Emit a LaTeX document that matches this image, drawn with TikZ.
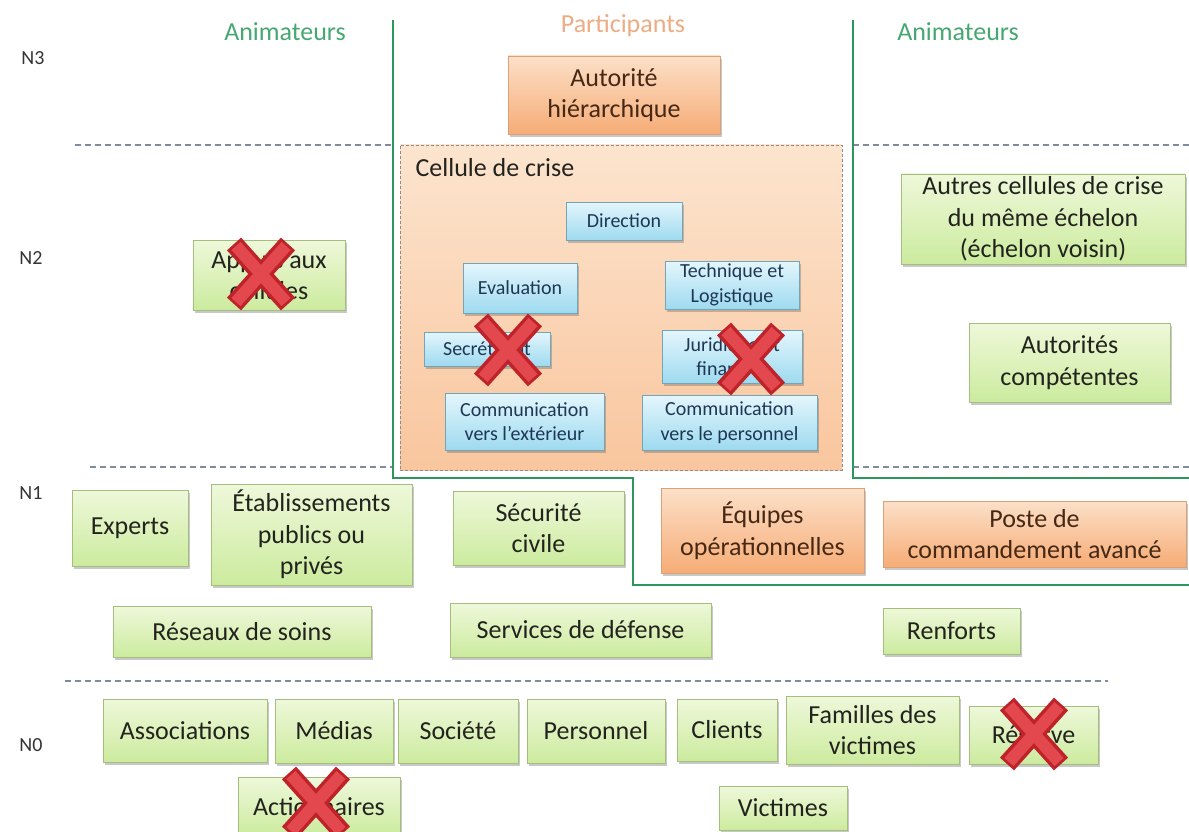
\documentclass[tikz,border=0pt]{standalone}
\usepackage{fontspec}
\setmainfont{Carlito}
\usetikzlibrary{shadows}
\definecolor{gtop}{RGB}{238,248,218}
\definecolor{gbot}{RGB}{204,235,158}
\definecolor{gborder}{RGB}{165,190,125}
\definecolor{otop}{RGB}{252,224,200}
\definecolor{obot}{RGB}{246,172,118}
\definecolor{oborder}{RGB}{218,160,120}
\definecolor{btop}{RGB}{228,246,252}
\definecolor{bbot}{RGB}{158,218,240}
\definecolor{bborder}{RGB}{115,165,185}
\definecolor{ctop}{RGB}{252,228,206}
\definecolor{cbot}{RGB}{249,198,158}
\definecolor{txt}{RGB}{35,35,30}
\definecolor{otxt}{RGB}{70,40,20}
\definecolor{btxt}{RGB}{30,55,85}
\definecolor{animgreen}{RGB}{70,168,112}
\definecolor{partorange}{RGB}{236,172,132}
\definecolor{linegreen}{RGB}{45,150,92}
\definecolor{dashgray}{RGB}{130,138,160}
\definecolor{xdark}{RGB}{190,35,42}
\definecolor{xlight}{RGB}{226,72,78}
\newcommand\mainfs{\fontsize{26}{31.5}\selectfont}
\newcommand\smallfs{\fontsize{20}{24.5}\selectfont}
\newcommand\mybox[7]{\node[#1, minimum width={#5-#3}, minimum height={#6-#4}] (#2) at ({(#3+#5)/2},{(#4+#6)/2}) {#7};}
\newcommand\redx[3]{%
  \coordinate (#1) at (#2,#3);
  \draw[xout] ($(#1)+(-27,-30)$) -- ($(#1)+(27,30)$);
  \draw[xout] ($(#1)+(27,-30)$) -- ($(#1)+(-27,30)$);
  \draw[xin] ($(#1)+(-25,-28)$) -- ($(#1)+(25,28)$);
  \draw[xin] ($(#1)+(25,-28)$) -- ($(#1)+(-25,28)$);}
\usetikzlibrary{calc}
\tikzset{
  base/.style={line width=0.7pt, align=center, inner sep=1pt,
    drop shadow={shadow xshift=2pt, shadow yshift=-3pt, opacity=0.3, fill=black!70}},
  gbox/.style={base, draw=gborder, top color=gtop, bottom color=gbot, font=\mainfs, text=txt},
  obox/.style={base, draw=oborder, top color=otop, bottom color=obot, font=\mainfs, text=otxt},
  bbox/.style={base, draw=bborder, top color=btop, bottom color=bbot, font=\smallfs, text=btxt},
  cellbox/.style={draw=black!45, dash pattern=on 3pt off 2pt, line width=0.6pt, top color=ctop, bottom color=cbot, inner sep=0pt},
  level/.style={font=\fontsize{20}{24}\selectfont, text=black!80},
  anim/.style={font=\mainfs, text=animgreen},
  part/.style={font=\mainfs, text=partorange},
  sep/.style={draw=dashgray, line width=1.2pt, dash pattern=on 6pt off 4pt},
  zone/.style={draw=linegreen, line width=2.6pt, line join=miter},
  xout/.style={draw=xdark, line width=19pt, line cap=butt},
  xin/.style={draw=xlight, line width=12pt, line cap=butt},
}
\begin{document}
\begin{tikzpicture}[x=1pt,y=-1pt]
\useasboundingbox[fill=white] (0,0) rectangle (1189,832);
% headers
\node[anim] (anim1) at (285,32) {Animateurs};
\node[part] (part) at (623,26) {Participants};
\node[anim] (anim2) at (958,32) {Animateurs};
\node[level] (n3) at (33,58) {N3};
\node[level] (n2) at (31,258) {N2};
\node[level] (n1) at (31,493) {N1};
\node[level] (n0) at (31,745) {N0};
% level separators
\draw[sep] (75,145) -- (393,145);
\draw[sep] (853,145) -- (1189,145);
\draw[sep] (90,467) -- (393,467);
\draw[sep] (853,467) -- (1189,467);
\draw[sep] (65,681) -- (1108,681);
% N3
\mybox{obox}{autorite}{508}{56}{720}{134}{Autorité\\hiérarchique}
% cellule de crise
\mybox{cellbox}{cellule}{400}{145}{842}{470}{}
\node[font=\mainfs, text=txt, anchor=west] (celltitle) at (412,168) {Cellule de crise};
\mybox{bbox}{direction}{566}{202}{682}{240}{Direction}
\mybox{bbox}{evaluation}{463}{263}{577}{313}{Evaluation}
\mybox{bbox}{technique}{665}{261}{799}{309}{Technique et\\Logistique}
\mybox{bbox}{secretariat}{424}{332}{550}{366}{Secrétariat}
\mybox{bbox}{juridique}{662}{330}{802}{383}{Juridique et\\financier}
\mybox{bbox}{commext}{445}{393}{604}{450}{Communication\\vers l’extérieur}
\mybox{bbox}{commpers}{642}{395}{817}{450}{Communication\\vers le personnel}
% N2 others
\mybox{gbox}{appuis}{193}{240}{345}{310}{Appuis aux\\cellules}
\mybox{gbox}{autres}{901}{174}{1185}{264}{Autres cellules de crise\\du même échelon\\(échelon voisin)}
\mybox{gbox}{autorites}{969}{323}{1170}{402}{Autorités\\compétentes}
% N1
\mybox{gbox}{experts}{72}{490}{188}{566}{Experts}
\mybox{gbox}{etab}{211}{484}{412}{585}{Établissements\\publics ou\\privés}
\mybox{gbox}{securite}{453}{491}{624}{565}{Sécurité\\civile}
\mybox{obox}{equipes}{661}{488}{864}{573}{Équipes\\opérationnelles}
\mybox{obox}{poste}{883}{501}{1186}{567}{Poste de\\commandement avancé}
\mybox{gbox}{reseaux}{113}{606}{371}{657}{Réseaux de soins}
\mybox{gbox}{defense}{450}{603}{711}{657}{Services de défense}
\mybox{gbox}{renforts}{883}{608}{1020}{654}{Renforts}
% N0
\mybox{gbox}{assoc}{103}{699}{267}{762}{Associations}
\mybox{gbox}{medias}{275}{699}{393}{763}{Médias}
\mybox{gbox}{societe}{398}{699}{518}{763}{Société}
\mybox{gbox}{personnel}{527}{699}{665}{763}{Personnel}
\mybox{gbox}{clients}{677}{699}{777}{761}{Clients}
\mybox{gbox}{familles}{786}{696}{959}{764}{Familles des\\victimes}
\mybox{gbox}{reserve}{969}{706}{1098}{764}{Réserve}
\mybox{gbox}{actionnaires}{238}{777}{400}{836}{Actionnaires}
\mybox{gbox}{victimes}{719}{786}{847}{830}{Victimes}
% zone boundaries
\draw[zone] (393,20) -- (393,478) -- (633,478) -- (633,585) -- (1189,585);
\draw[zone] (853,20) -- (853,478) -- (1189,478);
% crosses
\redx{x1}{261}{274}
\redx{x2}{508}{350}
\redx{x3}{751}{359}
\redx{x4}{1034}{734}
\redx{x5}{316}{803}
\end{tikzpicture}
\end{document}
